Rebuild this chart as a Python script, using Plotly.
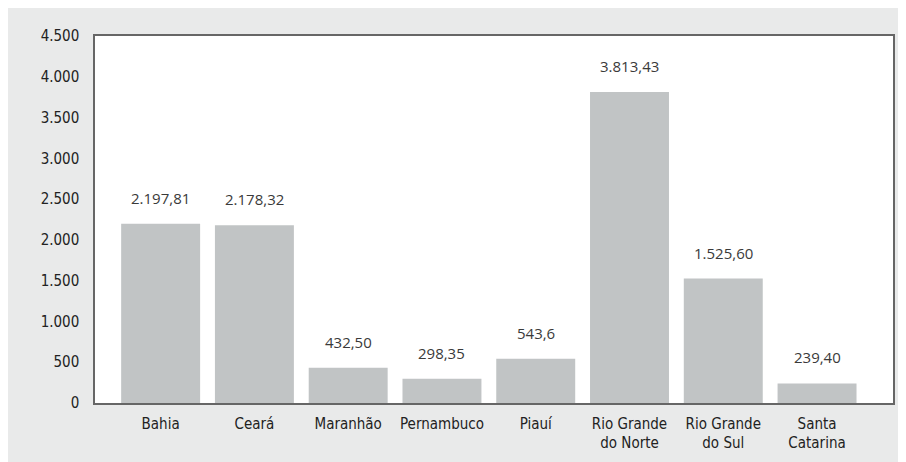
import plotly.graph_objects as go

categories = ["Bahia", "Ceará", "Maranhão", "Pernambuco", "Piauí",
              "Rio Grande<br>do Norte", "Rio Grande<br>do Sul", "Santa<br>Catarina"]
values = [2197.81, 2178.32, 432.50, 298.35, 543.6, 3813.43, 1525.60, 239.40]
value_labels = ["2.197,81", "2.178,32", "432,50", "298,35", "543,6",
                "3.813,43", "1.525,60", "239,40"]
y_ticks = [0, 500, 1000, 1500, 2000, 2500, 3000, 3500, 4000, 4500]

axis_font = dict(family="DejaVu Sans Condensed, Roboto, sans-serif", size=15, color="#222222")

fig = go.Figure()
fig.add_trace(go.Bar(
    x=list(range(len(categories))),
    y=values,
    marker=dict(color="#c1c4c5", line=dict(width=0)),
    width=0.842,
    hoverinfo="skip",
))

for i, (v, lab) in enumerate(zip(values, value_labels)):
    fig.add_annotation(x=i, y=v, text=lab, showarrow=False, xanchor="center",
                       yanchor="middle", yshift=26,
                       font=dict(family="Open Sans, sans-serif", size=15, color="#3a3a3a"))

fig.update_layout(
    width=906, height=462,
    margin=dict(l=87, r=21, t=28, b=67),
    paper_bgcolor="#e9eaea",
    plot_bgcolor="#ffffff",
    separators=",.",
    showlegend=False,
    xaxis=dict(
        range=[-0.7, 7.81],
        tickmode="array", tickvals=list(range(len(categories))), ticktext=categories,
        showgrid=False, zeroline=False,
        showline=True, linecolor="#666666", linewidth=1.5, mirror=True,
        ticks="", tickfont=axis_font, ticklabelstandoff=6,
    ),
    yaxis=dict(
        range=[0, 4500],
        tickmode="array", tickvals=y_ticks, tickformat=",d",
        showgrid=False, zeroline=False,
        showline=True, linecolor="#666666", linewidth=1.5, mirror=True,
        ticks="", tickfont=axis_font, ticklabelstandoff=11,
    ),
)

fig.write_html("out.html")
